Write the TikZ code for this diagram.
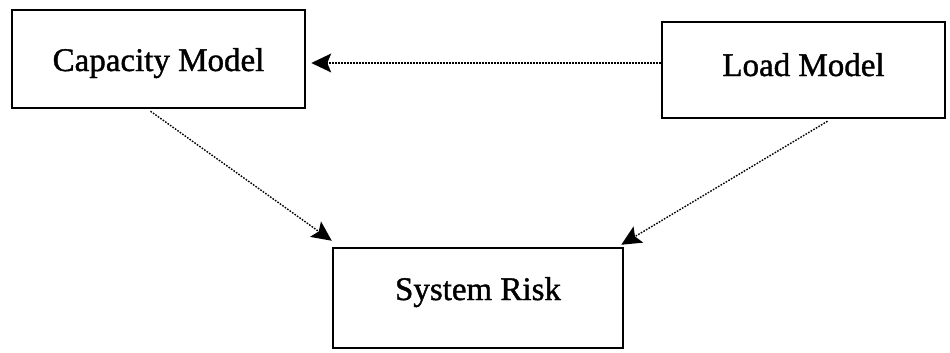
\documentclass[tikz,border=0pt]{standalone}
\usepackage{fontspec}
\setmainfont{Liberation Serif}
\newfontfamily\labelfont{Liberation Serif}[BoldFont={Liberation Serif},BoldFeatures={FakeBold=1.2}]
\usetikzlibrary{arrows.meta}
\begin{document}
\begin{tikzpicture}[x=1pt,y=-1pt,
  modelbox/.style={draw=black, line width=2.5pt, rectangle, inner sep=0pt,
    font=\fontsize{33}{38}\labelfont\bfseries, text height=24pt},
  flow/.style={line width=1.4pt, dash pattern=on 1.6pt off 1.4pt,
    -{Stealth[length=20pt,width=19pt,inset=4pt,line width=0pt]}}]
  \useasboundingbox (0,0) rectangle (950,353);
  % the three model boxes
  \node[modelbox, minimum width=293pt, minimum height=98pt, text depth=0pt]
    (cap) at (158.5,59) {Capacity Model};
  \node[modelbox, minimum width=283pt, minimum height=96pt, text depth=12pt]
    (load) at (803.5,70) {Load Model};
  \node[modelbox, minimum width=290pt, minimum height=100pt, text depth=20pt]
    (sys) at (478,298) {System Risk};
  % dependencies between the models
  \draw[flow] ([yshift=7pt]load.west) -- ([xshift=5pt,yshift=-4pt]cap.east);
  \draw[flow] ([xshift=-8pt,yshift=-2pt]cap.south) -- ([yshift=6pt]sys.north west);
  \draw[flow] ([xshift=24pt,yshift=-2pt]load.south) -- ([xshift=-3pt,yshift=2pt]sys.north east);
\end{tikzpicture}
\end{document}
